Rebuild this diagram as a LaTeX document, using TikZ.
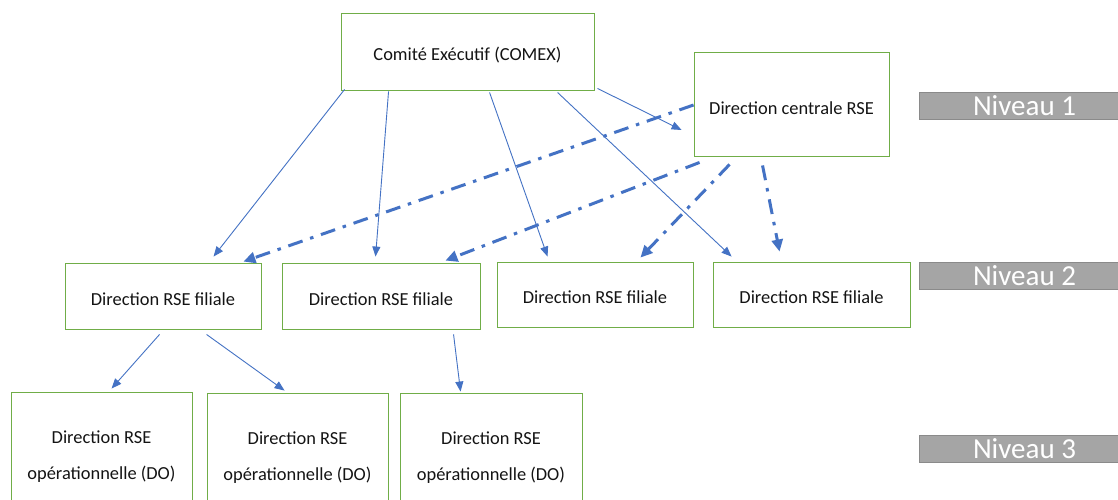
\documentclass[tikz,border=0pt]{standalone}
\usepackage{fontspec}
\setmainfont{Carlito}
\usetikzlibrary{arrows.meta}
\definecolor{rseblue}{HTML}{4472C4}
\definecolor{rsegreen}{HTML}{70AD47}
\definecolor{barfill}{HTML}{A5A5A5}
\definecolor{barline}{HTML}{8A8A8A}
\definecolor{txt}{HTML}{141414}
\newcommand{\lowtext}[2]{\raisebox{-#1pt}[\height][\depth]{#2}}
\tikzset{
  boxnode/.style={draw=rsegreen, line width=0.9pt, fill=white, inner sep=0pt,
    text=txt, font=\fontsize{18.4}{36}\selectfont, align=center},
  barnode/.style={draw=barline, line width=0.8pt, fill=barfill, inner sep=0pt,
    minimum width=211pt, minimum height=27pt, text=white,
    font=\fontsize{29}{30}\selectfont},
  solidarrow/.style={draw=rseblue, line width=0.9pt,
    -{Triangle[length=10pt,width=8pt]}},
  dasharrow/.style={draw=rseblue, line width=3pt,
    dash pattern=on 15pt off 8pt on 3.5pt off 8pt,
    -{Triangle[length=12pt,width=11pt]}}
}
\begin{document}
\begin{tikzpicture}[x=1pt,y=-1pt]
\useasboundingbox (0,0) rectangle (1118,499);
\clip (0,0) rectangle (1118,499);
\fill[white] (0,0) rectangle (1118,499);

% Level 1
\node[boxnode, minimum width=253pt, minimum height=77pt] (comex) at (467.5,51.5) {\lowtext{4}{Comité Exécutif (COMEX)}};
\node[boxnode, minimum width=195pt, minimum height=104pt] (central) at (791.5,104) {\lowtext{4}{Direction centrale RSE}};

% Level 2
\node[boxnode, minimum width=196pt, minimum height=66pt] (f1) at (163,296) {\lowtext{3}{Direction RSE filiale}};
\node[boxnode, minimum width=198pt, minimum height=66pt] (f2) at (381,296) {\lowtext{3}{Direction RSE filiale}};
\node[boxnode, minimum width=196pt, minimum height=65pt] (f3) at (595,294.5) {\lowtext{3}{Direction RSE filiale}};
\node[boxnode, minimum width=197pt, minimum height=65pt] (f4) at (811.5,294.5) {\lowtext{3}{Direction RSE filiale}};

% Level 3
\node[boxnode, minimum width=181pt, minimum height=130pt] (do1) at (101.5,457) {Direction RSE\\opérationnelle (DO)};
\node[boxnode, minimum width=181pt, minimum height=130pt] (do2) at (297.5,458) {Direction RSE\\opérationnelle (DO)};
\node[boxnode, minimum width=182pt, minimum height=130pt] (do3) at (491,458) {Direction RSE\\opérationnelle (DO)};

% Level bars
\node[barnode] (n1) at (1024.5,105.5) {Niveau 1};
\node[barnode] (n2) at (1024.5,276) {Niveau 2};
\node[barnode] (n3) at (1024.5,449) {Niveau 3};

% Solid connectors from COMEX
\draw[solidarrow] ([xshift=4pt,yshift=1pt]comex.south west) -- ([xshift=149pt,yshift=6pt]f1.north west);
\draw[solidarrow] ([xshift=48pt,yshift=-1pt]comex.south west) -- ([xshift=94pt,yshift=6pt]f2.north west);
\draw[solidarrow] ([xshift=149pt,yshift=-2pt]comex.south west) -- ([xshift=51pt,yshift=5pt]f3.north west);
\draw[solidarrow] ([xshift=217pt,yshift=-2pt]comex.south west) -- ([xshift=19pt,yshift=5pt]f4.north west);
\draw[solidarrow] ([xshift=3pt,yshift=2pt]comex.south east) -- ([xshift=-12pt,yshift=-26pt]central.west);

% Dash-dot connectors from central RSE
\draw[dasharrow] ([yshift=-1pt]central.west) -- ([xshift=-18pt,yshift=1pt]f1.north east);
\draw[dasharrow] ([xshift=6pt,yshift=-6pt]central.south west) -- ([xshift=-35pt,yshift=2pt]f2.north east);
\draw[dasharrow] ([xshift=36pt,yshift=-8pt]central.south west) -- ([xshift=-53pt,yshift=4pt]f3.north east);
\draw[dasharrow] ([xshift=69pt,yshift=-9pt]central.south west) -- ([xshift=67pt,yshift=10pt]f4.north west);

% Solid connectors to DO
\draw[solidarrow] ([xshift=95pt,yshift=-5pt]f1.south west) -- ([xshift=101pt,yshift=3pt]do1.north west);
\draw[solidarrow] ([xshift=142pt,yshift=-5pt]f1.south west) -- ([xshift=78pt,yshift=2pt]do2.north west);
\draw[solidarrow] ([xshift=172pt,yshift=-5pt]f2.south west) -- ([xshift=61pt,yshift=1pt]do3.north west);
\end{tikzpicture}
\end{document}
